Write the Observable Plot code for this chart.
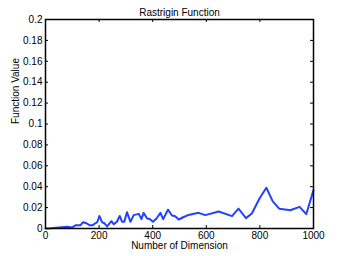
<!DOCTYPE html>
<html><head><meta charset="utf-8">
<script src="https://cdn.jsdelivr.net/npm/d3@7"></script>
<script src="https://cdn.jsdelivr.net/npm/@observablehq/plot@0.6"></script>
<style>body{margin:0;background:#fff}</style>
</head><body><div id="chart"></div>
<script>
const title = "Rastrigin Function";
const xLabel = "Number of Dimension";
const yLabel = "Function Value";
const xTicks = [0, 200, 400, 600, 800, 1000];
const yTicks = [0, 0.02, 0.04, 0.06, 0.08, 0.1, 0.12, 0.14, 0.16, 0.18, 0.2];
const dims = [0, 20, 40, 60, 80, 100, 112, 130, 140, 153, 165, 175, 186, 193, 201, 211, 220, 230, 246, 255, 267, 277, 286, 294, 304, 317, 329, 348, 358, 366, 379, 389, 401, 414, 429, 439, 457, 472, 484, 497, 516, 534, 571, 596, 646, 696, 720, 748, 770, 799, 824, 848, 873, 913, 948, 973, 1000];
const values = [0, 0.0003, 0.0008, 0.0012, 0.0016, 0.001, 0.003, 0.003, 0.006, 0.005, 0.003, 0.003, 0.005, 0.006, 0.012, 0.006, 0.005, 0.002, 0.007, 0.004, 0.0067, 0.012, 0.0064, 0.0064, 0.0156, 0.0064, 0.0128, 0.014, 0.009, 0.015, 0.0096, 0.009, 0.0064, 0.0096, 0.015, 0.009, 0.018, 0.0124, 0.0118, 0.0086, 0.011, 0.013, 0.015, 0.0128, 0.0163, 0.0118, 0.019, 0.0099, 0.0144, 0.029, 0.039, 0.026, 0.0188, 0.0175, 0.0207, 0.0137, 0.0367];
const data = dims.map((d, i) => ({x: d, y: values[i]}));

const W = 346, H = 256;
const mL = 45, mR = 33, mT = 19, mB = 28;
const iw = W - mL - mR, ih = H - mT - mB;
const tl = 3;
const font = "Liberation Sans, Arial, Helvetica, sans-serif";

const chart = Plot.plot({
  width: W, height: H,
  marginLeft: mL, marginRight: mR, marginTop: mT, marginBottom: mB,
  style: {fontFamily: font, fontSize: "10px", background: "#fff", color: "#000"},
  x: {domain: [0, 1000]},
  y: {domain: [0, 0.2]},
  marks: [
    Plot.line(data, {x: "x", y: "y", stroke: "#2342ff", strokeWidth: 2}),
    Plot.frame({stroke: "#000", strokeWidth: 1.5}),
    Plot.tickX(xTicks, {x: d => d, insetTop: ih - tl, stroke: "#000"}),
    Plot.tickX(xTicks, {x: d => d, insetBottom: ih - tl, stroke: "#000"}),
    Plot.tickY(yTicks, {y: d => d, insetRight: iw - tl, stroke: "#000"}),
    Plot.tickY(yTicks, {y: d => d, insetLeft: iw - tl, stroke: "#000"}),
    Plot.axisX({ticks: xTicks, tickSize: 0, tickPadding: 3, label: null, fontSize: 10, tickFormat: d => String(d)}),
    Plot.axisY({ticks: yTicks, tickSize: 0, tickPadding: 3, label: null, fontSize: 10, tickFormat: d => String(+d.toFixed(2))}),
    Plot.text([title], {text: d => d, frameAnchor: "top", dy: -11, fontSize: 10}),
    Plot.text([xLabel], {text: d => d, frameAnchor: "bottom", dy: 20, fontSize: 10}),
    Plot.text([yLabel], {text: d => d, frameAnchor: "left", dx: -30, rotate: -90, fontSize: 10})
  ]
});
document.getElementById("chart").appendChild(chart);
</script>
</body></html>
